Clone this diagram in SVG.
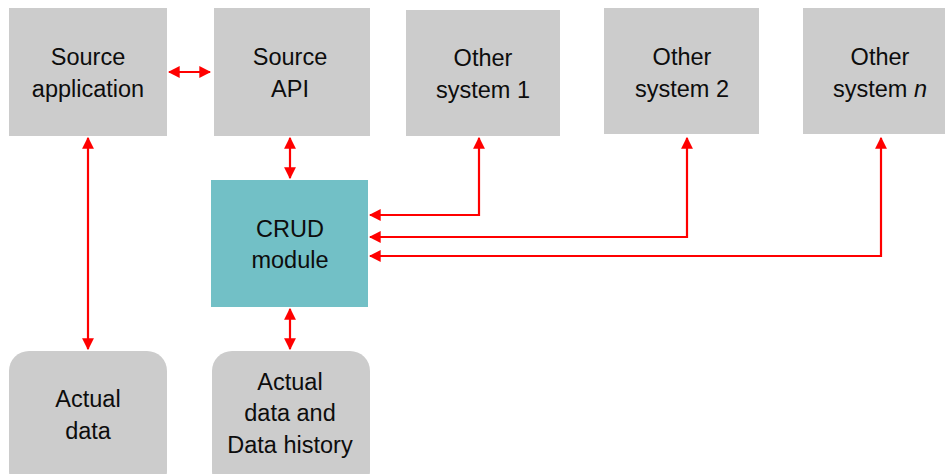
<svg xmlns="http://www.w3.org/2000/svg" width="945" height="474" viewBox="0 0 945 474">
<style>
.box{fill:#cccccc}
.crud{fill:#72c0c6}
text{font-family:"Liberation Sans",Arial,sans-serif;font-size:23.5px;fill:#0d0d0d;text-anchor:middle}
.c{stroke:#ff0000;stroke-width:2.2;fill:none;marker-start:url(#a);marker-end:url(#a)}
</style>
<defs>
<marker id="a" viewBox="0 0 10 10" refX="9" refY="5" markerWidth="5.4" markerHeight="5.4" orient="auto-start-reverse">
<path d="M0,0L10,5L0,10z" fill="#ff0000"/>
</marker>
</defs>
<g id="source-app"><rect class="box" x="9" y="8" width="158" height="128"/><text x="88" y="65">Source</text><text x="88" y="97">application</text></g>
<g id="source-api"><rect class="box" x="214" y="8" width="156" height="128"/><text x="290" y="65">Source</text><text x="290" y="97">API</text></g>
<g id="other1"><rect class="box" x="406" y="10" width="154" height="126"/><text x="483" y="66">Other</text><text x="483" y="98">system 1</text></g>
<g id="other2"><rect class="box" x="604" y="8" width="155" height="126"/><text x="682" y="65">Other</text><text x="682" y="97">system 2</text></g>
<g id="othern"><rect class="box" x="803" y="8" width="155" height="126"/><text x="880" y="65">Other</text><text x="880" y="97">system <tspan font-style="italic">n</tspan></text></g>
<g id="crud"><rect class="crud" x="211" y="180" width="157" height="127"/><text x="290" y="237">CRUD</text><text x="290" y="268">module</text></g>
<g id="actual-data"><rect class="box" x="9" y="351" width="158" height="140" rx="20"/><text x="88" y="407">Actual</text><text x="88" y="439">data</text></g>
<g id="actual-history"><rect class="box" x="212" y="351" width="158" height="140" rx="20"/><text x="290" y="390">Actual</text><text x="290" y="421">data and</text><text x="290" y="453">Data history</text></g>
<g id="connectors">
<path class="c" d="M169,72H210"/>
<path class="c" d="M88,138V349"/>
<path class="c" d="M290,138V178"/>
<path class="c" d="M290,309V349"/>
<path class="c" d="M479,138V215H370"/>
<path class="c" d="M687,138V237H370"/>
<path class="c" d="M881,138V256H370"/>
</g>
</svg>
